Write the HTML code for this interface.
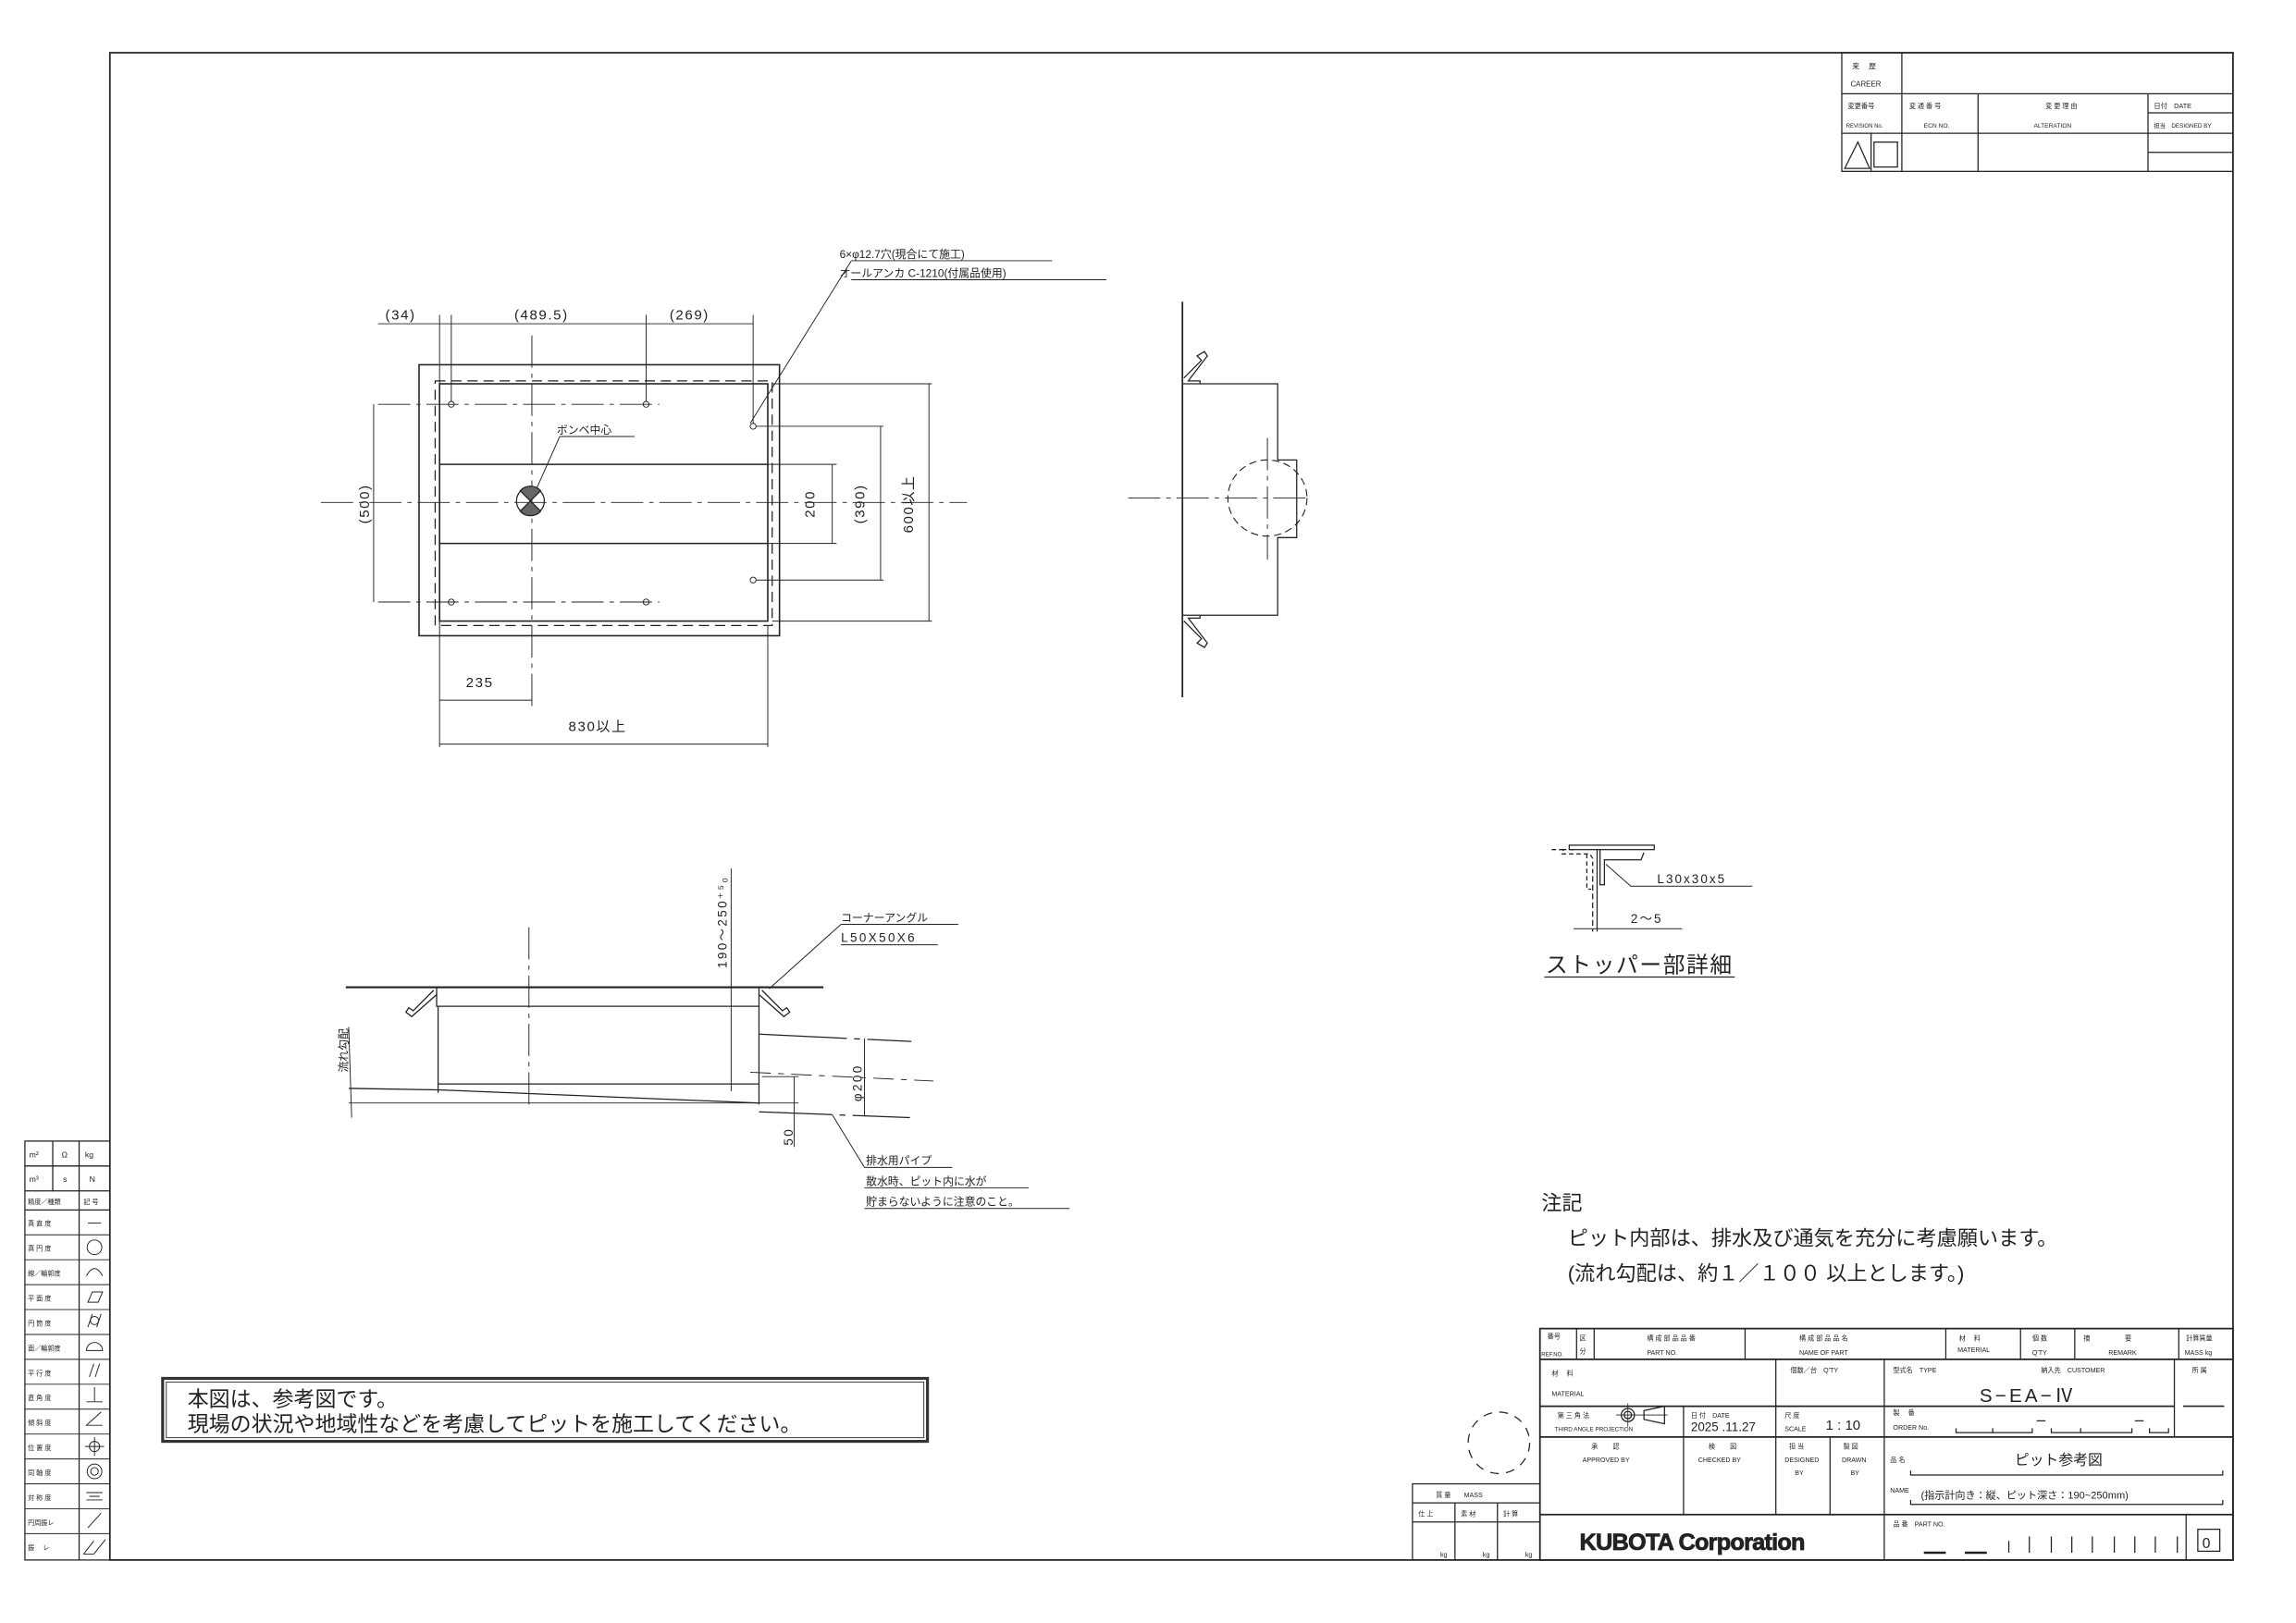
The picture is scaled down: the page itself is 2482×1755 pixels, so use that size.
<!DOCTYPE html>
<html><head><meta charset="utf-8"><style>
html,body{margin:0;padding:0;background:#fff;}
svg{display:block;}
text{font-family:"Liberation Sans","Noto Sans CJK JP",sans-serif;fill:#222;}
</style></head><body>
<svg width="2482" height="1755" viewBox="0 0 1567 1108" preserveAspectRatio="none" xmlns="http://www.w3.org/2000/svg">
<g fill="none" stroke="#222" stroke-width="0.8">
<!-- frame -->
<rect x="75" y="36" width="1449" height="1029" stroke-width="1.1"/>

<!-- revision block -->
<rect x="1257" y="36" width="267" height="81"/>
<line x1="1298" y1="36" x2="1298" y2="117"/>
<line x1="1257" y1="64" x2="1524" y2="64"/>
<line x1="1257" y1="91" x2="1524" y2="91"/>
<line x1="1350" y1="64" x2="1350" y2="117"/>
<line x1="1466" y1="64" x2="1466" y2="117"/>
<line x1="1466" y1="77" x2="1524" y2="77"/>
<line x1="1466" y1="104" x2="1524" y2="104"/>
<line x1="1277" y1="91" x2="1277" y2="117"/>
<polygon points="1259,115 1268,97 1276,115"/>
<rect x="1279" y="97" width="16" height="17"/>

<!-- left tolerance table -->
<rect x="17" y="779" width="58" height="286"/>
<line x1="17" y1="796" x2="75" y2="796"/>
<line x1="17" y1="813" x2="75" y2="813"/>
<line x1="17" y1="826" x2="75" y2="826"/>
<line x1="36" y1="779" x2="36" y2="813"/>
<line x1="54" y1="779" x2="54" y2="1065"/>
</g>
<g fill="none" stroke="#222" stroke-width="0.6">
<line x1="17" y1="843" x2="75" y2="843"/><line x1="17" y1="860" x2="75" y2="860"/>
<line x1="17" y1="877" x2="75" y2="877"/><line x1="17" y1="894" x2="75" y2="894"/>
<line x1="17" y1="911" x2="75" y2="911"/><line x1="17" y1="928" x2="75" y2="928"/>
<line x1="17" y1="945" x2="75" y2="945"/><line x1="17" y1="962" x2="75" y2="962"/>
<line x1="17" y1="979" x2="75" y2="979"/><line x1="17" y1="996" x2="75" y2="996"/>
<line x1="17" y1="1013" x2="75" y2="1013"/><line x1="17" y1="1030" x2="75" y2="1030"/>
<line x1="17" y1="1047" x2="75" y2="1047"/>
<!-- symbols -->
<line x1="60" y1="835" x2="69" y2="835"/>
<circle cx="64.5" cy="851.5" r="5"/>
<path d="M59,871 Q64.5,861 70,871"/>
<polygon points="60,889 63,882 70,882 67,889"/>
<path d="M60,906 L63,897 M66,906 L69,897"/><circle cx="64.5" cy="901.5" r="2.8"/>
<path d="M59,922 A5.5,5.5 0 0 1 70,922 Z"/>
<path d="M61,940 L64,931 M65,940 L68,931"/>
<path d="M59,957 L70,957 M64.5,957 L64.5,947"/>
<path d="M69,964 L59,973 L70,973"/>
<circle cx="64.5" cy="987.5" r="3.5"/><path d="M58,987.5 L71,987.5 M64.5,981 L64.5,994"/>
<circle cx="64.5" cy="1004.5" r="5"/><circle cx="64.5" cy="1004.5" r="2.6"/>
<path d="M59,1019 L70,1019 M61,1021.5 L68,1021.5 M59,1024 L70,1024"/>
<path d="M60,1043 L69,1033"/>
<path d="M57,1061 L64,1052 M64,1061 L72,1051 M57,1061 L64,1061"/>
</g>
<g font-size="5.5">
<text x="20" y="790">m²</text><text x="42" y="790">Ω</text><text x="58" y="790">kg</text>
<text x="20" y="807">m³</text><text x="43" y="807">s</text><text x="61" y="807">N</text>
<text x="19" y="822" font-size="4.5">精度／種類</text><text x="57" y="822" font-size="4.5">記 号</text>
<g font-size="4.5">
<text x="19" y="837">真 直 度</text><text x="19" y="854">真 円 度</text><text x="19" y="871">線／輪郭度</text>
<text x="19" y="888">平 面 度</text><text x="19" y="905">円 筒 度</text><text x="19" y="922">面／輪郭度</text>
<text x="19" y="939">平 行 度</text><text x="19" y="956">直 角 度</text><text x="19" y="973">傾 斜 度</text>
<text x="19" y="990">位 置 度</text><text x="19" y="1007">同 軸 度</text><text x="19" y="1024">対 称 度</text>
<text x="19" y="1041">円周振レ</text><text x="19" y="1058">振　 レ</text>
</g>
</g>
<g font-size="5">
<text x="1264" y="47">来　 歴</text><text x="1263" y="59">CAREER</text>
<text x="1261" y="74" font-size="4.6">変更番号</text><text x="1260" y="87" font-size="3.8">REVISION No.</text>
<text x="1303" y="74" font-size="4.5">変 通 番 号</text><text x="1313" y="87" font-size="4.2">ECN NO.</text>
<text x="1396" y="74" font-size="4.5">変 更 理 由</text><text x="1388" y="87" font-size="4.2">ALTERATION</text>
<text x="1470" y="74" font-size="4.6">日付　DATE</text><text x="1470" y="87" font-size="4">担当　DESIGNED BY</text>
</g>

<!-- PLAN VIEW -->
<g fill="none" stroke="#222" stroke-width="0.8">
<rect x="286" y="249" width="246" height="185" stroke-width="1"/>
<rect x="300" y="262" width="224" height="162" stroke-width="1"/>
<rect x="297" y="260" width="230" height="167" stroke-dasharray="7,4"/>
<line x1="300" y1="317" x2="524" y2="317" stroke-width="1"/>
<line x1="300" y1="371" x2="524" y2="371" stroke-width="1"/>
<g stroke-dasharray="22,4,3,4" stroke-width="0.6">
<line x1="219" y1="343" x2="660" y2="343"/>
<line x1="363" y1="229" x2="363" y2="486"/>
<line x1="258" y1="276" x2="450" y2="276"/>
<line x1="258" y1="411" x2="450" y2="411"/>
</g>
<g stroke-width="0.6">
<circle cx="308" cy="276" r="2"/><circle cx="441" cy="276" r="2"/>
<circle cx="308" cy="411" r="2"/><circle cx="441" cy="411" r="2"/>
<circle cx="514" cy="291" r="2"/><circle cx="514" cy="396" r="2"/>
<line x1="258" y1="221" x2="514" y2="221"/>
<line x1="300" y1="215" x2="300" y2="510"/>
<line x1="308" y1="215" x2="308" y2="274"/>
<line x1="441" y1="215" x2="441" y2="274"/>
<line x1="514" y1="215" x2="514" y2="289"/>
<line x1="255" y1="276" x2="255" y2="411"/>
<line x1="516" y1="291" x2="603" y2="291"/>
<line x1="516" y1="396" x2="603" y2="396"/>
<line x1="601" y1="291" x2="601" y2="396"/>
<line x1="524" y1="317" x2="571" y2="317"/>
<line x1="524" y1="371" x2="571" y2="371"/>
<line x1="568" y1="317" x2="568" y2="371"/>
<line x1="527" y1="262" x2="636" y2="262"/>
<line x1="527" y1="424" x2="636" y2="424"/>
<line x1="634" y1="262" x2="634" y2="424"/>
<line x1="524" y1="427" x2="524" y2="510"/>
<line x1="300" y1="478" x2="363" y2="478"/>
<line x1="300" y1="508" x2="524" y2="508"/>
<line x1="581" y1="178" x2="718" y2="178"/>
<line x1="581" y1="191" x2="755" y2="191"/>
<line x1="581" y1="178" x2="512" y2="289"/>
<line x1="382" y1="298" x2="433" y2="298"/>
<line x1="382" y1="298" x2="366" y2="334"/>
</g>
<circle cx="362" cy="342" r="9.5" stroke-width="0.8"/>
<path d="M362,342 L355,335 A9.5,9.5 0 0 1 369,335 Z M362,342 L355,349 A9.5,9.5 0 0 0 369,349 Z" fill="#666"/>
</g>
<g font-size="9.5" letter-spacing="1">
<text x="263" y="218">(34)</text>
<text x="351" y="218">(489.5)</text>
<text x="457" y="218">(269)</text>
<text x="318" y="469">235</text>
<text x="388" y="499">830以上</text>
<text transform="translate(252,344) rotate(-90)" text-anchor="middle">(500)</text>
<text transform="translate(556,344) rotate(-90)" text-anchor="middle">200</text>
<text transform="translate(590,344) rotate(-90)" text-anchor="middle">(390)</text>
<text transform="translate(623,344) rotate(-90)" text-anchor="middle">600以上</text>
</g>
<g font-size="7.5">
<text x="573" y="176">6×φ12.7穴(現合にて施工)</text>
<text x="573" y="189">オールアンカ C-1210(付属品使用)</text>
<text x="380" y="296">ボンベ中心</text>
</g>

<!-- SIDE VIEW -->
<g fill="none" stroke="#222" stroke-width="0.8">
<line x1="807" y1="206" x2="807" y2="476" stroke-width="1.1"/>
<polyline points="807,262 872,262 872,314 885,314 885,367 872,367 872,420 807,420"/>
<g stroke-dasharray="22,4,3,4" stroke-width="0.6">
<line x1="770" y1="340" x2="893" y2="340"/>
<line x1="865" y1="299" x2="865" y2="382"/>
</g>
<ellipse cx="865" cy="340" rx="27" ry="26" stroke-dasharray="5,3" stroke-width="0.7"/>
<path d="M808,258 L820,246 L817,243 L822,240 L824,243 L811,260 L819,260 L819,262"/>
<path d="M808,424 L820,436 L817,439 L822,442 L824,439 L811,422 L819,422 L819,420"/>
</g>

<!-- STOPPER DETAIL -->
<g fill="none" stroke="#222" stroke-width="0.8">
<rect x="1071" y="577" width="58" height="3"/>
<path d="M1074,580 L1067,580 L1066,583 L1085,583 L1087,586 L1087,598" stroke-dasharray="3,2"/>
<path d="M1083,583 L1083,607 L1086,607" stroke-dasharray="3,2"/>
<line x1="1087" y1="598" x2="1087" y2="636" stroke-dasharray="4,2"/>
<line x1="1090" y1="580" x2="1090" y2="636"/>
<path d="M1092,580 L1092,604 L1095,604 L1095,587 L1120,587 L1122,582"/>
<line x1="1067" y1="580" x2="1058" y2="580" stroke-dasharray="3,2"/>
<polyline points="1096,590 1113,605 1196,605" stroke-width="0.6"/>
<line x1="1074" y1="634" x2="1148" y2="634" stroke-width="0.6"/>
<line x1="1054" y1="667" x2="1184" y2="667"/>
</g>
<g font-size="8.5" letter-spacing="1.3">
<text x="1131" y="603">L30x30x5</text>
<text x="1113" y="630">2〜5</text>
</g>
<text x="1055" y="664" font-size="15" letter-spacing="1">ストッパー部詳細</text>

<!-- SECTION VIEW -->
<g fill="none" stroke="#222" stroke-width="0.8">
<line x1="236" y1="674" x2="562" y2="674" stroke-width="1.3"/>
<polyline points="298,674 298,687 518,687 518,674"/>
<line x1="299" y1="687" x2="299" y2="746"/>
<line x1="518" y1="687" x2="518" y2="754"/>
<line x1="299" y1="740" x2="518" y2="740"/>
<line x1="238" y1="743" x2="299" y2="744"/>
<line x1="299" y1="744" x2="518" y2="753"/>
<line x1="238" y1="753" x2="545" y2="753" stroke-width="0.6"/>
<path d="M238,701 L240,763" stroke-width="0.6"/>
<line x1="361" y1="633" x2="361" y2="756" stroke-dasharray="22,4,3,4" stroke-width="0.6"/>
<line x1="499" y1="593" x2="499" y2="745" stroke-width="0.6"/>
<path d="M296,676 L282,690 L279,688 L277,691 L281,694 L298,679"/>
<path d="M520,676 L534,690 L537,688 L539,691 L535,694 L518,679"/>
<line x1="518" y1="706" x2="622" y2="711" stroke-dasharray="60,5,4,5"/>
<line x1="518" y1="759" x2="621" y2="763" stroke-dasharray="50,5,4,5"/>
<line x1="512" y1="732" x2="637" y2="738" stroke-dasharray="14,5,4,5" stroke-width="0.6"/>
<line x1="590" y1="709" x2="590" y2="762" stroke-width="0.6"/>
<line x1="542" y1="735" x2="542" y2="783" stroke-width="0.6"/>
<line x1="520" y1="735" x2="545" y2="735" stroke-width="0.6"/>
<g stroke-width="0.6">
<line x1="574" y1="631" x2="654" y2="631"/>
<line x1="574" y1="645" x2="640" y2="645"/>
<line x1="574" y1="631" x2="525" y2="675"/>
<line x1="568" y1="761" x2="590" y2="797"/>
<line x1="590" y1="797" x2="650" y2="797"/>
<line x1="590" y1="811" x2="702" y2="811"/>
<line x1="590" y1="825" x2="730" y2="825"/>
</g>
</g>
<g font-size="8.5" letter-spacing="1.5">
<text transform="translate(496,661) rotate(-90)">190〜250⁺⁵₀</text>
<text transform="translate(588,752) rotate(-90)">φ200</text>
<text transform="translate(541,782) rotate(-90)">50</text>
<text x="574" y="643">L50X50X6</text>
</g>
<g font-size="7.5">
<text x="574" y="629">コーナーアングル</text>
<text transform="translate(237,732) rotate(-90)">流れ勾配</text>
<text x="591" y="795">排水用パイプ</text>
<text x="591" y="809">散水時、ピット内に水が</text>
<text x="591" y="823">貯まらないように注意のこと。</text>
</g>

<!-- NOTES -->
<g font-size="14">
<text x="1052" y="826">注記</text>
<text x="1070" y="850">ピット内部は、排水及び通気を充分に考慮願います。</text>
<text x="1070" y="874">(流れ勾配は、約１／１００ 以上とします。)</text>
</g>

<!-- bottom-left box -->
<rect x="111" y="941" width="522" height="43" fill="none" stroke="#333" stroke-width="2"/>
<rect x="113.5" y="943.5" width="517" height="38" fill="none" stroke="#333" stroke-width="0.6"/>
<g font-size="14.5">
<text x="128" y="960">本図は、参考図です。</text>
<text x="128" y="977">現場の状況や地域性などを考慮してピットを施工してください。</text>
</g>

<!-- TITLE BLOCK -->
<g fill="none" stroke="#222" stroke-width="0.8">
<rect x="1051" y="907" width="473" height="158" stroke-width="1.1"/>
<line x1="1051" y1="928" x2="1524" y2="928" stroke-width="1.1"/>
<line x1="1051" y1="960" x2="1484" y2="960" stroke-width="1.1"/>
<line x1="1051" y1="981" x2="1524" y2="981" stroke-width="1.1"/>
<line x1="1051" y1="1034" x2="1524" y2="1034" stroke-width="1.1"/>
<line x1="1076" y1="907" x2="1076" y2="928"/>
<line x1="1088" y1="907" x2="1088" y2="928"/>
<line x1="1191" y1="907" x2="1191" y2="928"/>
<line x1="1328" y1="907" x2="1328" y2="928"/>
<line x1="1379" y1="907" x2="1379" y2="928"/>
<line x1="1416" y1="907" x2="1416" y2="928"/>
<line x1="1487" y1="907" x2="1487" y2="928"/>
<line x1="1212" y1="928" x2="1212" y2="1034"/>
<line x1="1286" y1="928" x2="1286" y2="1065"/>
<line x1="1484" y1="928" x2="1484" y2="981"/>
<line x1="1149" y1="960" x2="1149" y2="1034"/>
<line x1="1249" y1="981" x2="1249" y2="1034"/>
<line x1="1492" y1="1034" x2="1492" y2="1065"/>
<line x1="1490" y1="960" x2="1518" y2="960" stroke-width="1"/>
<path d="M1304,1004 L1304,1007 L1517,1007 L1517,1004"/>
<path d="M1304,1024 L1304,1027 L1517,1027 L1517,1024"/>
<path d="M1335,975 L1335,978 L1387,978 L1387,975 M1360,975 L1360,978 M1400,975 L1400,978 L1455,978 L1455,975 M1420,975 L1420,978 M1467,975 L1467,978 L1480,978 L1480,975"/>
<line x1="1390" y1="970" x2="1396" y2="970"/><line x1="1457" y1="970" x2="1463" y2="970"/>
<rect x="1500" y="1044" width="15" height="15"/>
<path d="M1313,1060 L1328,1060 M1341,1060 L1356,1060" stroke-width="1.6"/>
<path d="M1371,1060 L1371,1052 M1385,1060 L1385,1049 M1400,1060 L1400,1049 M1414,1060 L1414,1049 M1428,1060 L1428,1049 M1443,1060 L1443,1049 M1457,1060 L1457,1049 M1471,1060 L1471,1049 M1486,1060 L1486,1049"/>
<circle cx="1111" cy="966" r="4.5"/><circle cx="1111" cy="966" r="2.5"/>
<line x1="1103" y1="966" x2="1138" y2="966" stroke-width="0.5"/>
<line x1="1111" y1="958" x2="1111" y2="974" stroke-width="0.5"/>
<polygon points="1122,963 1136,960 1136,972 1122,969"/>
<rect x="964" y="1013" width="87" height="52"/>
<line x1="964" y1="1026" x2="1051" y2="1026"/>
<line x1="964" y1="1039" x2="1051" y2="1039"/>
<line x1="993" y1="1026" x2="993" y2="1065"/>
<line x1="1022" y1="1026" x2="1022" y2="1065"/>
<circle cx="1023" cy="985" r="21" stroke-dasharray="6,5"/>
</g>
<g font-size="4.5">
<text x="1056" y="914">番号</text><text x="1052" y="926" font-size="3.8">REF.NO.</text>
<text x="1078" y="915">区</text><text x="1078" y="924">分</text>
<text x="1124" y="915">構 成 部 品 品 番</text><text x="1124" y="925">PART NO.</text>
<text x="1228" y="915">構 成 部 品 品 名</text><text x="1228" y="925">NAME OF PART</text>
<text x="1337" y="915">材　 料</text><text x="1336" y="923">MATERIAL</text>
<text x="1387" y="915">個 数</text><text x="1387" y="925">Q'TY</text>
<text x="1422" y="915">摘　　　　　 要</text><text x="1439" y="925">REMARK</text>
<text x="1492" y="915">計算質量</text><text x="1491" y="925">MASS kg</text>
<text x="1059" y="939">材　 料</text><text x="1059" y="953">MATERIAL</text>
<text x="1222" y="937">個数／台　Q'TY</text>
<text x="1292" y="937">型式名　TYPE</text><text x="1393" y="937">納入先　CUSTOMER</text>
<text x="1496" y="937">所 属</text>
<text x="1063" y="968">第 三 角 法</text><text x="1061" y="977" font-size="4">THIRD ANGLE PROJECTION</text>
<text x="1154" y="968">日 付　DATE</text>
<text x="1218" y="968">尺 度</text><text x="1218" y="977">SCALE</text>
<text x="1292" y="966">製　 番</text><text x="1292" y="976">ORDER No.</text>
<text x="1086" y="989">承　　 認</text><text x="1080" y="998">APPROVED BY</text>
<text x="1166" y="989">検　　 図</text><text x="1159" y="998">CHECKED BY</text>
<text x="1221" y="989">担 当</text><text x="1218" y="998">DESIGNED</text><text x="1225" y="1007">BY</text>
<text x="1258" y="989">製 図</text><text x="1257" y="998">DRAWN</text><text x="1263" y="1007">BY</text>
<text x="1290" y="998">品 名</text>
<text x="1290" y="1019">NAME</text>
<text x="1292" y="1042">品 番　PART NO.</text>
<text x="980" y="1022">質 量　　MASS</text>
<text x="968" y="1035">仕 上</text><text x="997" y="1035">素 材</text><text x="1026" y="1035">計 算</text>
<text x="983" y="1063">kg</text><text x="1012" y="1063">kg</text><text x="1041" y="1063">kg</text>
</g>
<text x="1351" y="957" font-size="13" letter-spacing="2" font-family="Liberation Serif, serif">S−EA−Ⅳ</text>
<text x="1154" y="977" font-size="8.5">2025 .11.27</text>
<text x="1246" y="976" font-size="9.5">1 : 10</text>
<text x="1375" y="1000" font-size="10">ピット参考図</text>
<text x="1311" y="1023" font-size="7">(指示計向き：縦、ピット深さ：190~250mm)</text>
<text x="1503" y="1057" font-size="10">0</text>
<text x="1078" y="1058" font-size="16" font-weight="bold" fill="#fff" stroke="#222" stroke-width="0.5" letter-spacing="-0.5">KUBOTA Corporation</text>
</svg>
</body></html>
